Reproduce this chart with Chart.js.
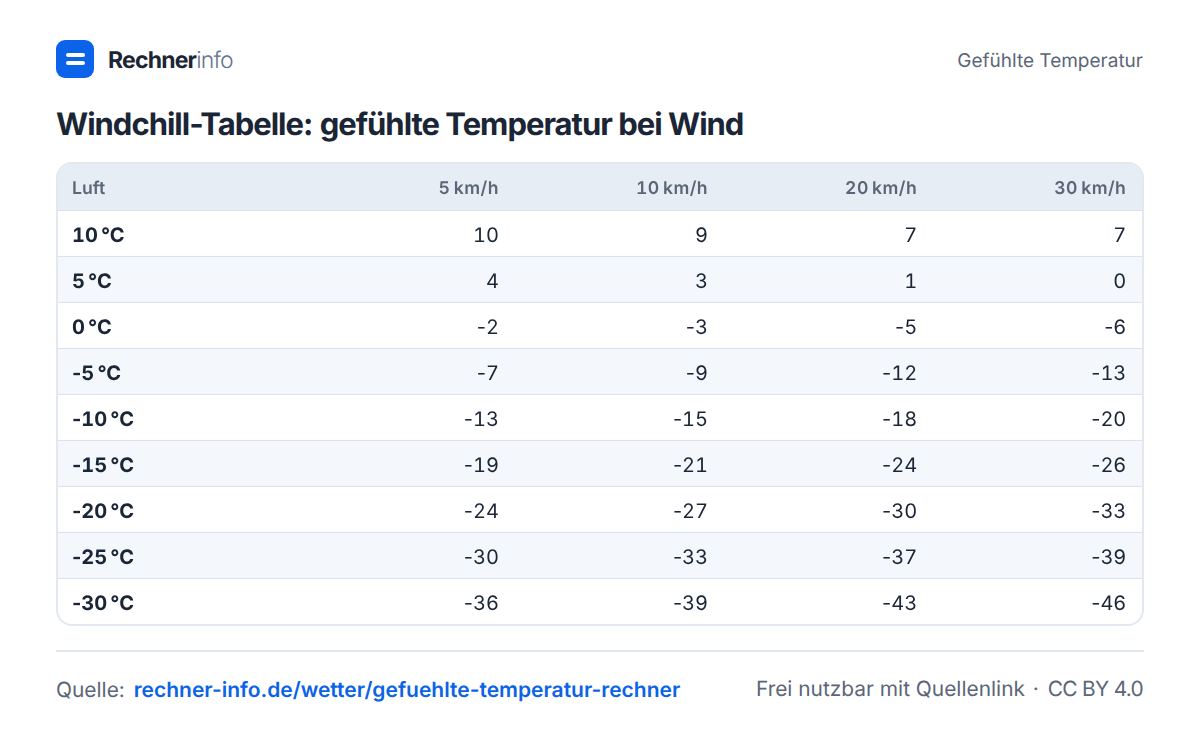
<!DOCTYPE html>
<html lang="de">
<head>
<meta charset="utf-8">
<title>Windchill-Tabelle</title>
<script src="https://cdn.jsdelivr.net/npm/chart.js@4/dist/chart.umd.min.js"></script>
<style>
  html, body { margin: 0; padding: 0; background: #fff; }
  body { width: 1200px; height: 730px; position: relative; overflow: hidden; font-family: Inter, sans-serif; color: #1a2535; text-rendering: geometricPrecision; }
  .abs { position: absolute; white-space: pre; line-height: 1; }
  .logo { left: 56px; top: 40px; width: 38px; height: 38px; border-radius: 9px; background: #0b63ea; }
  .logo i { position: absolute; left: 10px; width: 19px; height: 4px; border-radius: 2px; background: #fff; }
  .brand { left: 108px; top: 49px; font-size: 23px; font-weight: 700; letter-spacing: -0.8px; }
  .brand span { font-weight: 300; color: #64748b; }
  .topic { right: 57px; top: 51px; font-size: 19px; color: #5b6678; }
  h1 { margin: 0; left: 56px; top: 109px; font-size: 31px; font-weight: 700; letter-spacing: -1px; }
  h1 span { margin-left: 1px; }
  .box { position: absolute; left: 56px; top: 162px; width: 1084px; height: 460px; border: 2px solid #e2e8f0; border-radius: 16px; overflow: hidden; }
  canvas { display: block; }
  .cell { position: absolute; white-space: pre; line-height: 1; transform: translateY(-50%); font-variant-numeric: tabular-nums; }
  .cell span { font-variant-numeric: normal; }
  .rule { position: absolute; left: 56px; top: 650px; width: 1088px; height: 2px; background: #e2e8f0; }
  .foot { top: 680px; font-size: 20.9px; color: #5b6678; }
  .foot b { font-size: 21px; font-weight: 600; color: #0b63e5; margin-left: 3px; }
  .foot em { font-style: normal; letter-spacing: -0.7px; margin-left: 3px; }
  .foot u { text-decoration: none; margin-left: 2px; }
</style>
</head>
<body>
<div class="abs logo"><i style="top:13px"></i><i style="top:21px"></i></div>
<div class="abs brand">Rechner<span>info</span></div>
<div class="abs topic">Gefühlte Temperatur</div>
<h1 class="abs">Windchill-Tabelle: <span>gefühlte Temperatur bei Wind</span></h1>
<div class="box" id="box"><canvas id="table" width="1084" height="460"></canvas></div>
<div class="rule"></div>
<div class="abs foot" style="left:56px">Quelle: <b>rechner-info.de/wetter/gefuehlte-temperatur-rechner</b></div>
<div class="abs foot" style="right:57px">Frei nutzbar mit Quellenlink<u> · </u><em>CC BY 4.0</em></div>

<script>
var cornerLabel = 'Luft';
var airTemps = ['10\u202f°C', '5\u202f°C', '0\u202f°C', '-5\u202f°C', '-10\u202f°C', '-15\u202f°C', '-20\u202f°C', '-25\u202f°C', '-30\u202f°C'];
var windSpeeds = ['5\u202fkm/h', '10\u202fkm/h', '20\u202fkm/h', '30\u202fkm/h'];
var wind5 = [10, 4, -2, -7, -13, -19, -24, -30, -36];
var wind10 = [9, 3, -3, -9, -15, -21, -27, -33, -39];
var wind20 = [7, 1, -5, -12, -18, -24, -30, -37, -43];
var wind30 = [7, 0, -6, -13, -20, -26, -33, -39, -46];
var windColumns = [wind5, wind10, wind20, wind30];

var inkColor = '#1a2535';
var mutedColor = '#5b6678';

// x scale runs in column numbers, the ends are just the table edges
var xMin = -1.108;
var xMax = 4.075;

function addCell(text, x, y, alignRight, css) {
    var el = document.createElement('div');
    el.className = 'cell';
    el.style.cssText = css;
    // tabular hyphen is too wide, keep the minus sign proportional
    if (text.charAt(0) === '-') {
        var minus = document.createElement('span');
        minus.textContent = '-';
        el.appendChild(minus);
        el.appendChild(document.createTextNode(text.slice(1)));
    } else {
        el.textContent = text;
    }
    if (alignRight) el.style.right = (1084 - x) + 'px';
    else el.style.left = x + 'px';
    el.style.top = y + 'px';
    document.getElementById('box').appendChild(el);
}

// Canvas text has no tabular digits, so the labels sit over the chart, placed by its scales
var tablePlugin = {
    id: 'tablePlugin',
    beforeDraw: function (chart) {
        var ctx = chart.ctx;
        ctx.save();
        ctx.fillStyle = '#e7edf5';
        ctx.fillRect(0, 0, chart.width, chart.chartArea.top);
        ctx.restore();
    },
    afterRender: function (chart) {
        if (chart.$labelled) return;
        chart.$labelled = true;
        var xs = chart.scales.x, ys = chart.scales.y;
        var headY = chart.chartArea.top / 2 + 2;
        var headCss = 'font-size:17.6px;font-weight:600;color:' + mutedColor;
        addCell(cornerLabel, 14, headY, false, headCss);
        windSpeeds.forEach(function (s, c) {
            addCell(s, xs.getPixelForValue(c + 1), headY, true, headCss + ';letter-spacing:.45px');
        });
        airTemps.forEach(function (t, r) {
            addCell(t, 14, ys.getPixelForValue(r) + 2, false, 'font-size:20px;font-weight:700;color:' + inkColor);
        });
        chart.data.datasets.forEach(function (ds, i) {
            if (ds.type !== 'scatter') return;
            chart.getDatasetMeta(i).data.forEach(function (pt, j) {
                addCell(String(ds.values[j]), pt.x, pt.y + 2, true, 'font-size:20px;color:' + inkColor);
            });
        });
    }
};

var datasets = [{
    type: 'bar',
    data: airTemps.map(function (t, i) { return i % 2 ? [xMin, xMax] : null; }),
    backgroundColor: '#f4f7fb',
    barPercentage: 1,
    categoryPercentage: 1
}];

windColumns.forEach(function (values, c) {
    datasets.push({
        type: 'scatter',
        values: values,
        data: values.map(function (v, r) { return { x: c + 1, y: airTemps[r] }; }),
        pointRadius: 0
    });
});

new Chart(document.getElementById('table'), {
    type: 'bar',
    data: { labels: airTemps, datasets: datasets },
    plugins: [tablePlugin],
    options: {
        indexAxis: 'y',
        responsive: false,
        animation: false,
        layout: { padding: 0 },
        plugins: { legend: { display: false }, tooltip: { enabled: false } },
        scales: {
            x: {
                type: 'linear',
                position: 'top',
                min: xMin,
                max: xMax,
                afterFit: function (scale) {
                    scale.height = 46;
                    scale.paddingLeft = scale.paddingRight = 0;
                },
                grid: { display: false },
                border: { display: false },
                ticks: { display: false }
            },
            y: {
                type: 'category',
                afterFit: function (scale) {
                    scale.width = 0;
                    scale.paddingTop = scale.paddingBottom = 0;
                },
                grid: { color: '#dbe4ee', lineWidth: 1, drawTicks: false, z: 1 },
                border: { display: false },
                ticks: { display: false }
            }
        }
    }
});
</script>
</body>
</html>
